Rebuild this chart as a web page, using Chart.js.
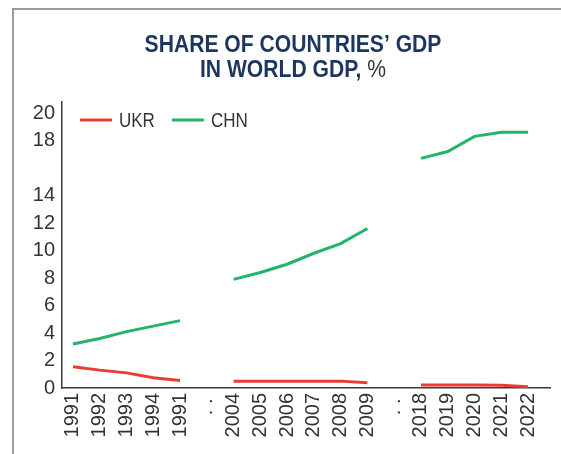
<!DOCTYPE html>
<html>
<head>
<meta charset="utf-8">
<script src="https://cdn.jsdelivr.net/npm/chart.js@4.4.1/dist/chart.umd.min.js"></script>
<style>
  html, body { margin: 0; padding: 0; background: #ffffff; }
  #wrap { position: relative; width: 561px; height: 454px; }
</style>
</head>
<body>
<div id="wrap"><canvas id="c" width="561" height="454"></canvas></div>
<script>
// ---- data ----
const categories = ['1991', '1992', '1993', '1994', '1991', '. . ', '2004', '2005', '2006', '2007', '2008', '2009', '. . ', '2018', '2019', '2020', '2021', '2022'];
const ukrValues = [1.55, 1.3, 1.1, 0.75, 0.55, null, 0.5, 0.5, 0.5, 0.5, 0.5, 0.38, null, 0.22, 0.22, 0.22, 0.2, 0.1];
const chnValues = [3.2, 3.6, 4.1, 4.5, 4.9, null, 7.9, 8.4, 9.0, 9.8, 10.5, 11.6, null, 16.7, 17.2, 18.3, 18.6, 18.6];
const yTickValues = [0, 2, 4, 6, 8, 10, 12, 14, 18, 20];
const seriesNames = ['UKR', 'CHN'];
const titleLine1 = 'SHARE OF COUNTRIES\u2019 GDP';
const titleLine2 = 'IN WORLD GDP,';
const titleUnit = '%';

const FONT = "'Liberation Sans Narrow', 'Liberation Sans', sans-serif";
const RED = '#ec3b35';
const GREEN = '#25b36c';
const NAVY = '#1d355f';
const TEXT = '#333333';

const toPoints = arr => arr.map((v, i) => ({ x: i, y: v }));

const framePlugin = {
  id: 'frame',
  beforeDraw(chart) {
    const ctx = chart.ctx;
    ctx.save();
    ctx.strokeStyle = '#9c9c9c';
    ctx.lineWidth = 2;
    ctx.beginPath();
    ctx.moveTo(13, chart.height);
    ctx.lineTo(13, 9);
    ctx.lineTo(chart.width, 9);
    ctx.stroke();
    ctx.restore();
  }
};

// condensed drawing helper (horizontal squeeze to mimic a narrow face)
function squeezedText(ctx, text, x, y, sx) {
  ctx.save();
  ctx.translate(x, y);
  ctx.scale(sx, 1);
  ctx.fillText(text, 0, 0);
  ctx.restore();
}

const titlePlugin = {
  id: 'customTitle',
  afterDraw(chart) {
    const ctx = chart.ctx;
    const sx = 0.88;
    const cx = 293;
    ctx.save();
    ctx.textBaseline = 'alphabetic';
    ctx.textAlign = 'left';
    ctx.fillStyle = NAVY;
    ctx.font = "bold 24px " + FONT;
    const w0 = ctx.measureText(titleLine1).width * sx;
    squeezedText(ctx, titleLine1, cx - w0 / 2, 52, sx);
    const w1 = ctx.measureText(titleLine2 + ' ').width * sx;
    ctx.font = "24px " + FONT;
    const w2 = ctx.measureText(titleUnit).width * sx;
    const start = cx - (w1 + w2) / 2;
    ctx.font = "bold 24px " + FONT;
    squeezedText(ctx, titleLine2 + ' ', start, 77, sx);
    ctx.font = "24px " + FONT;
    ctx.fillStyle = TEXT;
    squeezedText(ctx, titleUnit, start + w1, 77, sx);
    ctx.restore();
  }
};

const legendPlugin = {
  id: 'customLegend',
  afterDraw(chart) {
    const ctx = chart.ctx;
    const sx = 0.85;
    ctx.save();
    ctx.font = "20px " + FONT;
    ctx.textBaseline = 'middle';
    ctx.textAlign = 'left';
    let x = 80;
    const y = 120;
    chart.data.datasets.forEach(ds => {
      ctx.strokeStyle = ds.borderColor;
      ctx.lineWidth = 3;
      ctx.beginPath();
      ctx.moveTo(x, y);
      ctx.lineTo(x + 32, y);
      ctx.stroke();
      ctx.fillStyle = TEXT;
      squeezedText(ctx, ds.label, x + 39, y + 1, sx);
      x += 39 + ctx.measureText(ds.label).width * sx + 17;
    });
    ctx.restore();
  }
};

new Chart(document.getElementById('c'), {
  type: 'line',
  data: {
    datasets: [
      { label: seriesNames[0], data: toPoints(ukrValues), borderColor: RED, backgroundColor: RED, borderWidth: 3, pointRadius: 0, tension: 0, spanGaps: false },
      { label: seriesNames[1], data: toPoints(chnValues), borderColor: GREEN, backgroundColor: GREEN, borderWidth: 3, pointRadius: 0, tension: 0, spanGaps: false }
    ]
  },
  options: {
    responsive: false,
    animation: false,
    events: [],
    layout: { padding: { top: 102, left: 0, right: 11, bottom: 0 } },
    plugins: {
      legend: { display: false },
      title: { display: false },
      tooltip: { enabled: false }
    },
    scales: {
      x: {
        type: 'linear',
        min: -0.41,
        max: 17.82,
        grid: { display: false, drawTicks: false },
        border: { display: true, color: '#3c3c3c', width: 1.5 },
        afterBuildTicks(scale) { scale.ticks = categories.map((_, i) => ({ value: i })); },
        afterFit(scale) { scale.height = 66; },
        ticks: {
          autoSkip: false,
          minRotation: 90,
          maxRotation: 90,
          padding: 5,
          color: TEXT,
          font: { family: FONT, size: 20 },
          callback: (v) => categories[v] ?? ''
        }
      },
      y: {
        type: 'linear',
        min: 0,
        max: 20.8,
        grid: { display: false, drawTicks: false },
        border: { display: true, color: '#3c3c3c', width: 1.5 },
        afterBuildTicks(scale) { scale.ticks = yTickValues.map(v => ({ value: v })); },
        afterFit(scale) { scale.width = 62; },
        ticks: {
          padding: 7,
          color: TEXT,
          font: { family: FONT, size: 20 },
          callback: (v) => String(v)
        }
      }
    }
  },
  plugins: [framePlugin, titlePlugin, legendPlugin]
});
</script>
</body>
</html>
